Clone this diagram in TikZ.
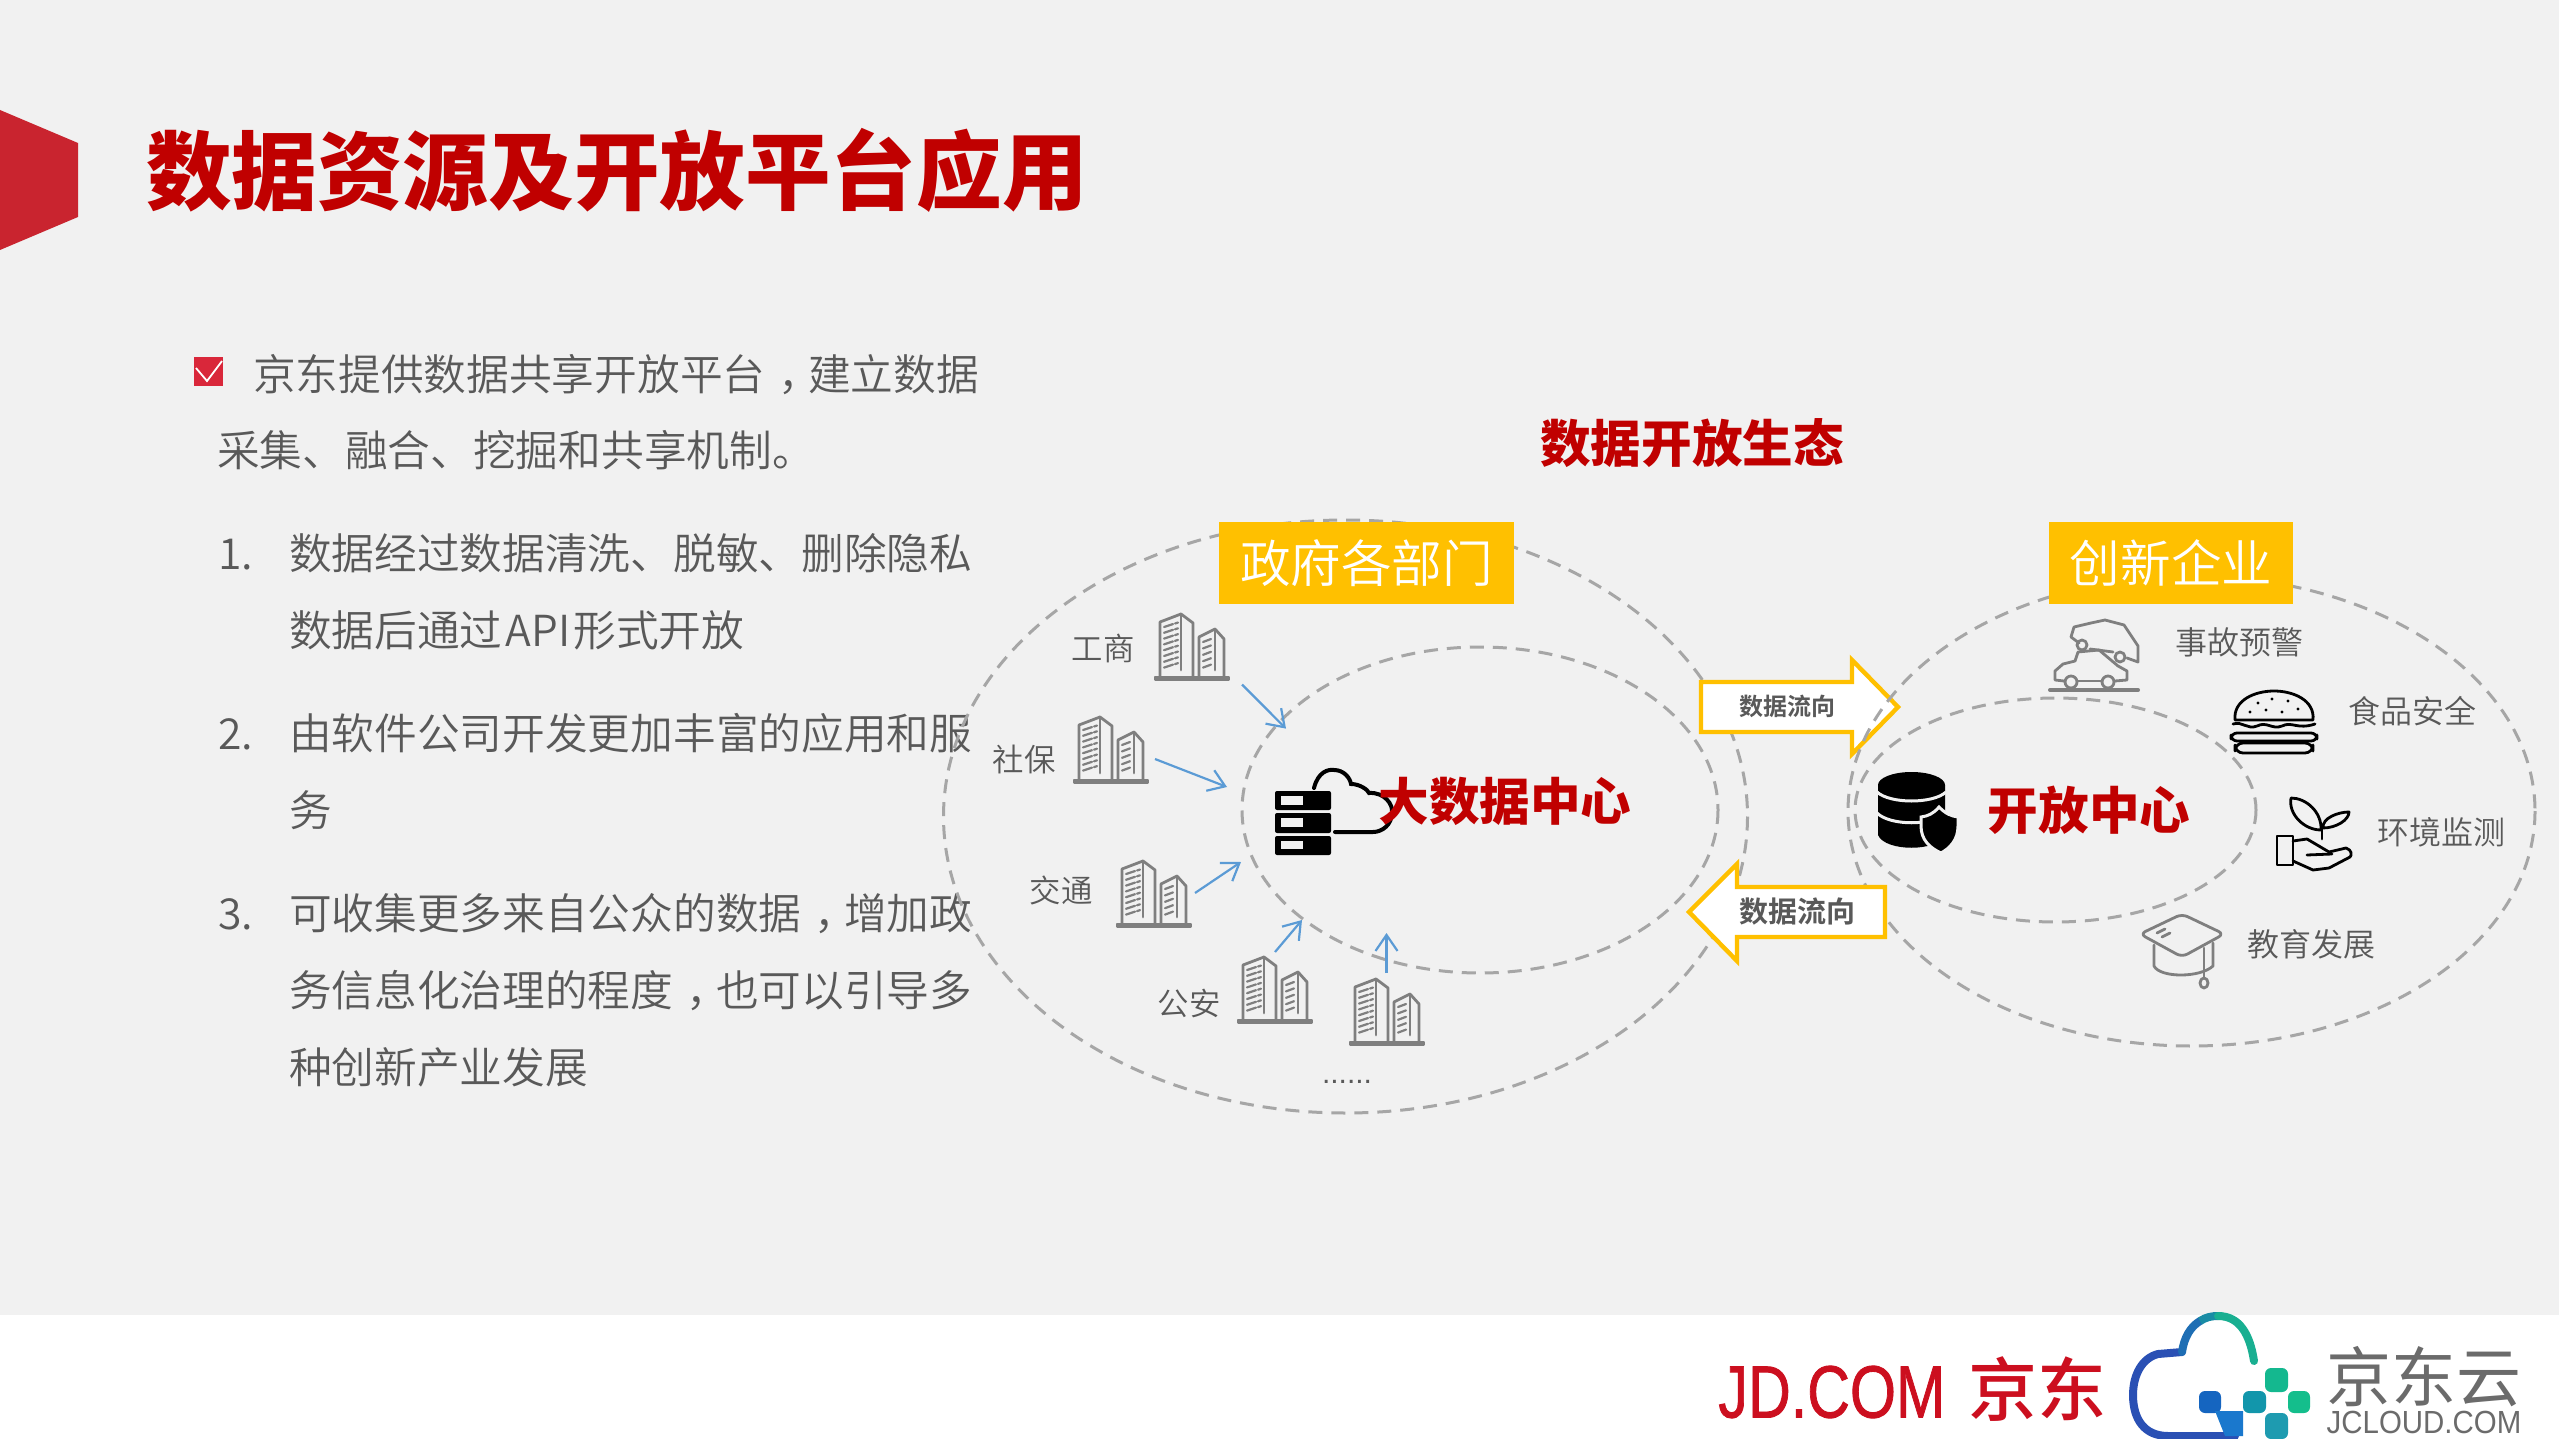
\documentclass[tikz,border=0pt]{standalone}
\usepackage{graphicx}
\usepackage{fontspec}
\usetikzlibrary{arrows.meta}
\setmainfont{Noto Sans CJK SC DemiLight}
\newfontfamily\cjkreg{Noto Sans CJK SC}
\newfontfamily\cjkmed{Noto Sans CJK SC Medium}
\newfontfamily\cjkbold{Noto Sans CJK SC Bold}
\newfontfamily\cjkblack{Noto Sans CJK SC Black}
\newfontfamily\latinlogo{Liberation Sans}
\newfontfamily\jdfont[FakeBold=1.2]{Liberation Sans}
\definecolor{bgc}{HTML}{F1F1F1}
\definecolor{deep}{HTML}{C00000}
\definecolor{txtc}{HTML}{595959}
\definecolor{amber}{HTML}{FFC000}
\definecolor{dashc}{HTML}{A6A6A6}
\definecolor{iconc}{HTML}{7F7F7F}
\definecolor{flow}{HTML}{5B9BD5}
\tikzset{
  tx/.style={inner sep=0pt,outer sep=0pt,text=txtc,font=\fontsize{#1}{#1}\selectfont,
    execute at begin node={\rule[-.14em]{0pt}{1em}}},
  body/.style={tx=21.35,anchor=west},
  lab/.style={tx=15.7},
  lab4/.style={tx=16},
  redb/.style={tx=#1,text=deep,font=\fontsize{#1}{#1}\selectfont\cjkblack},
  ring/.style={draw=dashc,line width=1.5pt,dash pattern=on 7pt off 4.5pt},
  feed/.style={draw=flow,line width=1.1pt,-{Straight Barb[length=8pt,width=11pt]}},
  block/.style={draw=amber,fill=white,line width=2.2pt,miter limit=10},
  ico/.style={draw=iconc,line width=1.4pt,line join=round,line cap=round},
  icb/.style={draw=black,line width=1.4pt,line join=round,line cap=round},
  bldg/.pic={
    \draw[ico,fill=iconc] (0,64) rectangle (74,66.5);
    \draw[ico] (5,64) -- (5,9) -- (26,1) -- (38,10) -- (38,64);
    \draw[ico] (26,1) -- (26,57);
    \draw[ico] (44,64) -- (44,24) -- (60,16) -- (69,26) -- (69,64);
    \draw[ico] (60,16) -- (60,57);
    \foreach \k in {0,...,7}{
      \draw[ico,line width=1.1pt] (9,{14+\k*5.8}) -- (18,{11+\k*5.8});
      \draw[ico,line width=1.1pt] (20,{10.5+\k*5.8}) -- (23,{9.5+\k*5.8});
    }
    \foreach \k in {0,...,4}{
      \draw[ico,line width=1.1pt] (48,{29+\k*6.4}) -- (56,{26+\k*6.4});
    }
  }
}
\begin{document}
\begin{tikzpicture}[x=0.5pt,y=-0.5pt]
\useasboundingbox (0,0) rectangle (2559,1439);
\fill[white] (0,0) rectangle (2559,1439);
\fill[bgc] (0,0) rectangle (2559,1315);
% title
\fill[fill={rgb,255:red,201;green,36;blue,47}] (0,110) -- (78,143) -- (78,217) -- (0,250) -- cycle;
\node[redb=42.8,anchor=west] (title) at (146,172) {数据资源及开放平台应用};
% bullet
\fill[fill={rgb,255:red,217;green,39;blue,58}] (194,357) rectangle (223,386);
\draw[white,line width=.9pt] (196,368) -- (207,381) -- (222,361);
% body text
\node[body] (l1) at (253,375) {京东提供数据共享开放平台\kern.3em，\kern-.3em建立数据};
\node[body] (l2) at (217,451) {采集、融合、挖掘和共享机制。};
\node[body] (n1) at (218,554) {1.};
\node[body] (l3) at (289,554) {数据经过数据清洗、脱敏、删除隐私};
\node[body] (l4) at (289,631) {数据后通过\kern.075em API\kern.075em 形式开放};
\node[body] (n2) at (218,734) {2.};
\node[body] (l5) at (289,734) {由软件公司开发更加丰富的应用和服};
\node[body] (l6) at (289,811) {务};
\node[body] (n3) at (218,914) {3.};
\node[body] (l7) at (289,914) {可收集更多来自公众的数据\kern.3em，\kern-.3em增加政};
\node[body] (l8) at (289,991) {务信息化治理的程度\kern.3em，\kern-.3em也可以引导多};
\node[body] (l9) at (289,1068) {种创新产业发展};
\node[redb=25.3] (eco) at (1692,444) {数据开放生态};
% rings left
\draw[ring] (1345.5,816.5) ellipse [x radius=402,y radius=296.5];
\draw[ring] (1480,810) ellipse [x radius=238,y radius=163];
% right flow arrow
\draw[block] (1701,682) -- (1852,682) -- (1852,660) -- (1898,707) -- (1852,754) -- (1852,732) -- (1701,732) -- cycle;
\node[tx=12,text=txtc,font=\fontsize{12}{12}\selectfont\cjkbold] (fr) at (1787,707) {数据流向};
% rings right
\draw[ring] (2191.5,811) ellipse [x radius=343.5,y radius=235];
\draw[ring] (2055.5,810) ellipse [x radius=200.5,y radius=112];
% left flow arrow
\draw[block] (1885,887) -- (1737,887) -- (1737,864) -- (1689,912) -- (1737,961) -- (1737,937) -- (1885,937) -- cycle;
\node[tx=14.5,text=txtc,font=\fontsize{14.5}{14.5}\selectfont\cjkbold] (fl) at (1797,912) {数据流向};
% header boxes
\node[fill=amber,minimum width=147.5pt,minimum height=41pt,inner sep=0pt,text=white,font=\fontsize{25.3}{25.3}\selectfont] (gov) at (1366.5,563) {政府各部门};
\node[fill=amber,minimum width=122pt,minimum height=41pt,inner sep=0pt,text=white,font=\fontsize{25.3}{25.3}\selectfont] (biz) at (2171,563) {创新企业};
% buildings
\pic at (1155,613) {bldg};
\pic at (1074,716) {bldg};
\pic at (1117,860) {bldg};
\pic at (1238,956) {bldg};
\pic at (1350,978) {bldg};
\node[lab] (gs) at (1103,649) {工商};
\node[lab] (sb) at (1024,760) {社保};
\node[lab] (jt) at (1061,891) {交通};
\node[lab] (ga) at (1189,1004) {公安};
\node[inner sep=0pt,text=txtc,font=\fontsize{15}{15}\selectfont\latinlogo] (dots) at (1347,1082) {......};
% feeds
\coordinate (a1) at (1242,684.5); \coordinate (b1) at (1286,728.6);
\coordinate (a2) at (1155,759);   \coordinate (b2) at (1227,787);
\coordinate (a3) at (1195,893);   \coordinate (b3) at (1241,862);
\coordinate (a4) at (1275,952);   \coordinate (b4) at (1302,920);
\coordinate (a5) at (1386.5,973); \coordinate (b5) at (1386.5,933);
\draw[feed] (a1) -- (b1);
\draw[feed] (a2) -- (b2);
\draw[feed] (a3) -- (b3);
\draw[feed] (a4) -- (b4);
\draw[feed] (a5) -- (b5);
% server icon
\fill[black,rounded corners=1pt] (1275,791) rectangle (1331,810);
\fill[black,rounded corners=1pt] (1275,813) rectangle (1331,833);
\fill[black,rounded corners=1pt] (1275,836) rectangle (1331,855);
\fill[bgc] (1281,796) rectangle (1303,805);
\fill[bgc] (1281,818) rectangle (1303,827);
\fill[bgc] (1281,841) rectangle (1303,849);
\draw[black,line width=2pt,line cap=round] (1314,788) .. controls (1318,772) and (1328,769) .. (1334,770) .. controls (1344,770) and (1350,778) .. (1351,784) .. controls (1360,784) and (1368,790) .. (1369,793) .. controls (1385,792) and (1393,805) .. (1392,812) .. controls (1392,825) and (1382,832) .. (1373,832) -- (1335,832);
\node[redb=25.3] (bdc) at (1505,802) {大数据中心};
% database icon
\fill[black] (1878,785) -- (1878,835) .. controls (1885,852) and (1938,852) .. (1945,835) -- (1945,785) -- cycle;
\fill[black] (1911.5,785) ellipse [x radius=33.5,y radius=13];
\draw[bgc,line width=1.5pt] (1877,792) .. controls (1890,804) and (1933,804) .. (1946,792);
\draw[bgc,line width=1.5pt] (1877,813) .. controls (1890,826) and (1933,826) .. (1946,813);
\draw[bgc,line width=1.5pt,fill=black] (1939,807) .. controls (1946,814) and (1951,816) .. (1958,817) -- (1958,826) .. controls (1958,840) and (1950,848) .. (1941,853) .. controls (1930,848) and (1921,840) .. (1921,826) -- (1921,817) .. controls (1928,816) and (1933,814) .. (1939,807) -- cycle;
\node[redb=25.3] (odc) at (2089,811) {开放中心};
% car icon
\draw[ico,line width=2pt] (2050,690) -- (2138,690);
\draw[ico] (2064,681) -- (2055,680) -- (2055,671) -- (2063,664) -- (2075,661) -- (2078,652) -- (2099,650) -- (2118,666) -- (2127,671) -- (2127,680) -- (2115,681);
\draw[ico] (2078,681) -- (2102,681);
\draw[ico] (2071,682) circle [radius=6];
\draw[ico] (2108,682) circle [radius=6];
\draw[ico] (2079,643) -- (2071,637) -- (2074,627) -- (2091,623) -- (2105,620) -- (2124,625) -- (2138,646) -- (2138,662) -- (2127,658);
\draw[ico] (2090,649) -- (2113,652);
\draw[ico] (2082,645) circle [radius=5];
\draw[ico] (2120,657) circle [radius=5];
\node[lab4] (t1) at (2239,643) {事故预警};
% burger icon
\draw[icb] (2235,720) .. controls (2233,700) and (2255,691) .. (2274,691) .. controls (2293,691) and (2315,700) .. (2313,720) -- cycle;
\foreach \p in {(2258,703),(2272,699),(2288,701),(2250,712),(2266,710),(2282,712),(2298,709)}{\fill[black] \p circle [radius=1.6];}
\draw[icb] (2233,724) .. controls (2243,721) and (2247,730) .. (2257,726) .. controls (2267,721) and (2272,730) .. (2282,726) .. controls (2292,721) and (2297,730) .. (2315,724);
\draw[icb,rounded corners=3pt] (2231,733) rectangle (2317,741);
\draw[icb,rounded corners=4pt] (2235,743) rectangle (2313,753);
\node[lab4] (t2) at (2412,712) {食品安全};
% plant icon
\draw[icb] (2321,830) .. controls (2322,812) and (2306,798) .. (2291,798) .. controls (2288,814) and (2304,830) .. (2321,830) -- cycle;
\draw[icb] (2323,828) .. controls (2336,828) and (2349,820) .. (2349,812) .. controls (2338,812) and (2322,818) .. (2323,828) -- cycle;
\draw[icb] (2322,828) -- (2322,839);
\draw[icb] (2277,836) rectangle (2293,865);
\draw[icb] (2293,841) -- (2307,839) -- (2329,852) -- (2346,848) .. controls (2352,850) and (2352,855) .. (2350,857) -- (2329,868) -- (2313,870) -- (2293,861);
\draw[icb] (2307,855) -- (2332,854);
\node[lab4] (t3) at (2441,833) {环境监测};
% cap icon
\draw[ico,rounded corners=3pt] (2182,914) -- (2224,934) -- (2182,957) -- (2140,934) -- cycle;
\draw[ico] (2154,945) -- (2154,966) .. controls (2160,978) and (2200,978) .. (2213,966) -- (2213,943);
\draw[ico] (2157,933) -- (2165,929);
\draw[ico] (2162,937) -- (2170,933);
\draw[ico] (2204,948) -- (2204,978);
\draw[ico] (2204,983) ellipse [x radius=4,y radius=5];
\node[lab4] (t4) at (2311,945) {教育发展};
% logos
\node[inner sep=0pt,text={rgb,255:red,204;green,15;blue,31},anchor=west,font=\fontsize{37}{37}\selectfont\jdfont] (jd) at (1718,1392) {\scalebox{0.8}[1]{JD.COM}};
\node[tx=34.5,text={rgb,255:red,204;green,15;blue,31},font=\fontsize{34.5}{34.5}\selectfont\cjkmed] (jdc) at (2037,1391) {京东};
\draw[line width=4pt,draw={rgb,255:red,42;green,80;blue,180},line cap=round] (2182,1352) -- (2158,1354) .. controls (2142,1358) and (2133,1375) .. (2133,1395) .. controls (2133,1420) and (2145,1436) .. (2168,1436) -- (2235,1436);
\draw[line width=4pt,draw={rgb,255:red,30;green,110;blue,180},line cap=round] (2182,1352) .. controls (2184,1338) and (2190,1327) .. (2200,1321);
\draw[line width=4pt,draw={rgb,255:red,25;green,140;blue,165}] (2200,1321) .. controls (2206,1317) and (2212,1316) .. (2218,1316);
\draw[line width=4pt,draw={rgb,255:red,25;green,175;blue,145},line cap=round] (2218,1316) .. controls (2240,1316) and (2250,1335) .. (2254,1361);
\fill[fill={rgb,255:red,21;green,101;blue,192},rounded corners=3pt] (2199,1391) rectangle (2221,1413);
\fill[fill={rgb,255:red,26;green,120;blue,205}] (2215,1411) -- (2243,1411) -- (2243,1436) -- (2225,1436) -- cycle;
\fill[fill={rgb,255:red,20;green,184;blue,143},rounded corners=3pt] (2265,1368) rectangle (2288,1392);
\fill[fill={rgb,255:red,20;green,190;blue,140},rounded corners=3pt] (2288,1391) rectangle (2310,1413);
\fill[fill={rgb,255:red,18;green,150;blue,171},rounded corners=3pt] (2243,1391) rectangle (2266,1413);
\fill[fill={rgb,255:red,30;green,155;blue,176},rounded corners=3pt] (2265,1413) rectangle (2288,1439);
\node[tx=32.5,text={rgb,255:red,107;green,107;blue,107},font=\fontsize{32.5}{32.5}\selectfont\cjkreg] (jdy) at (2424,1378) {京东云};
\node[inner sep=0pt,text={rgb,255:red,107;green,107;blue,107},font=\fontsize{16}{16}\selectfont\latinlogo] (jcl) at (2424,1422) {\scalebox{0.92}[1]{JCLOUD.COM}};
\end{tikzpicture}
\end{document}
